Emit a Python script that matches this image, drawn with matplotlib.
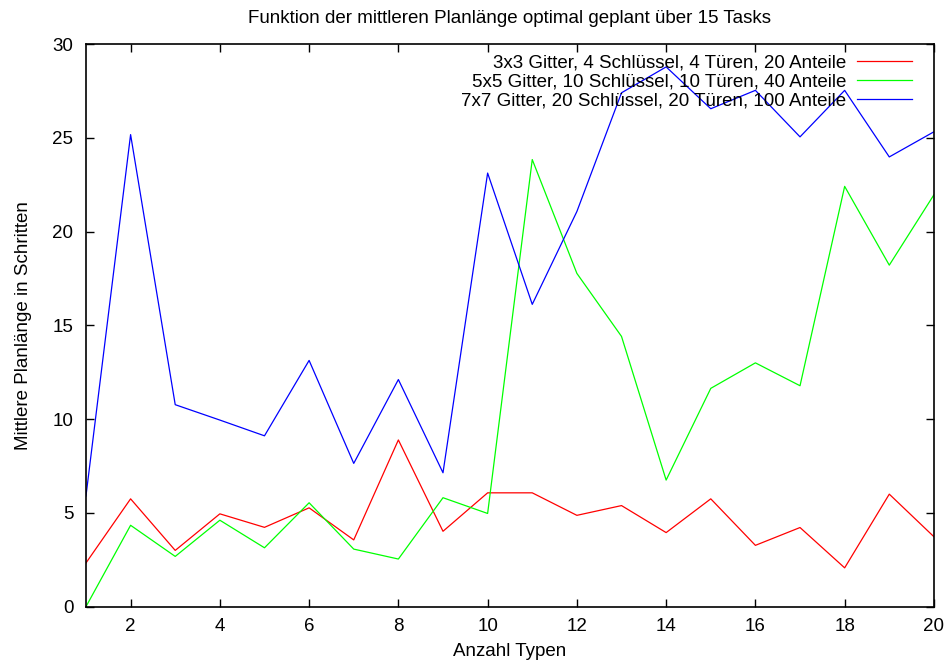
import matplotlib
matplotlib.use('Agg')
import matplotlib.pyplot as plt

plt.rcParams['font.family'] = ['Liberation Sans', 'DejaVu Sans']

# mean plan length per number of types
anzahl_typen = list(range(1, 21))
gitter_3x3 = [2.33, 5.75, 3.0, 4.95, 4.23, 5.27, 3.56, 8.89, 4.02, 6.07,
              6.07, 4.87, 5.39, 3.95, 5.75, 3.27, 4.22, 2.07, 6.0, 3.73]
gitter_5x5 = [0.0, 4.34, 2.68, 4.61, 3.14, 5.54, 3.07, 2.54, 5.81, 4.97,
              23.84, 17.77, 14.41, 6.75, 11.64, 13.0, 11.78, 22.41, 18.21, 21.96]
gitter_7x7 = [5.9, 25.17, 10.77, 9.95, 9.11, 13.13, 7.64, 12.11, 7.14, 23.12,
              16.12, 21.07, 27.4, 28.78, 26.55, 27.53, 25.05, 27.53, 23.98, 25.32]

labels = ['3x3 Gitter, 4 Schlüssel, 4 Türen, 20 Anteile',
          '5x5 Gitter, 10 Schlüssel, 10 Türen, 40 Anteile',
          '7x7 Gitter, 20 Schlüssel, 20 Türen, 100 Anteile']
colors = ['#ff0000', '#00ff00', '#0000ff']
fs = 13.5

fig = plt.figure(figsize=(9.52, 6.68), dpi=100)
ax = fig.add_axes([0.0903, 0.0918, 0.8907, 0.8423])

for series, label, color in zip([gitter_3x3, gitter_5x5, gitter_7x7], labels, colors):
    ax.plot(anzahl_typen, series, color=color, linewidth=0.9, label=label)

ax.set_xlim(1, 20)
ax.set_ylim(0, 30)
ax.set_xticks(range(2, 21, 2))
ax.set_yticks(range(0, 31, 5))
ax.tick_params(direction='in', top=True, right=True, length=6, width=1,
               labelsize=fs)
ax.tick_params(axis='x', pad=8)
ax.tick_params(axis='y', pad=9)
for spine in ax.spines.values():
    spine.set_linewidth(1.2)

ax.set_title('Funktion der mittleren Planlänge optimal geplant über 15 Tasks',
             fontsize=fs, pad=15)
ax.set_xlabel('Anzahl Typen', fontsize=fs, labelpad=6)
ax.set_ylabel('Mittlere Planlänge in Schritten', fontsize=fs, labelpad=15)

# key sits top right, text left of the line sample
ax.legend(loc='upper right', bbox_to_anchor=(0.9917, 1.008),
          frameon=False, markerfirst=False, fontsize=fs,
          handlelength=2.9, handletextpad=0.6, labelspacing=0.1,
          borderaxespad=0.5, borderpad=0.3)

fig.savefig('out.png', dpi=100)
